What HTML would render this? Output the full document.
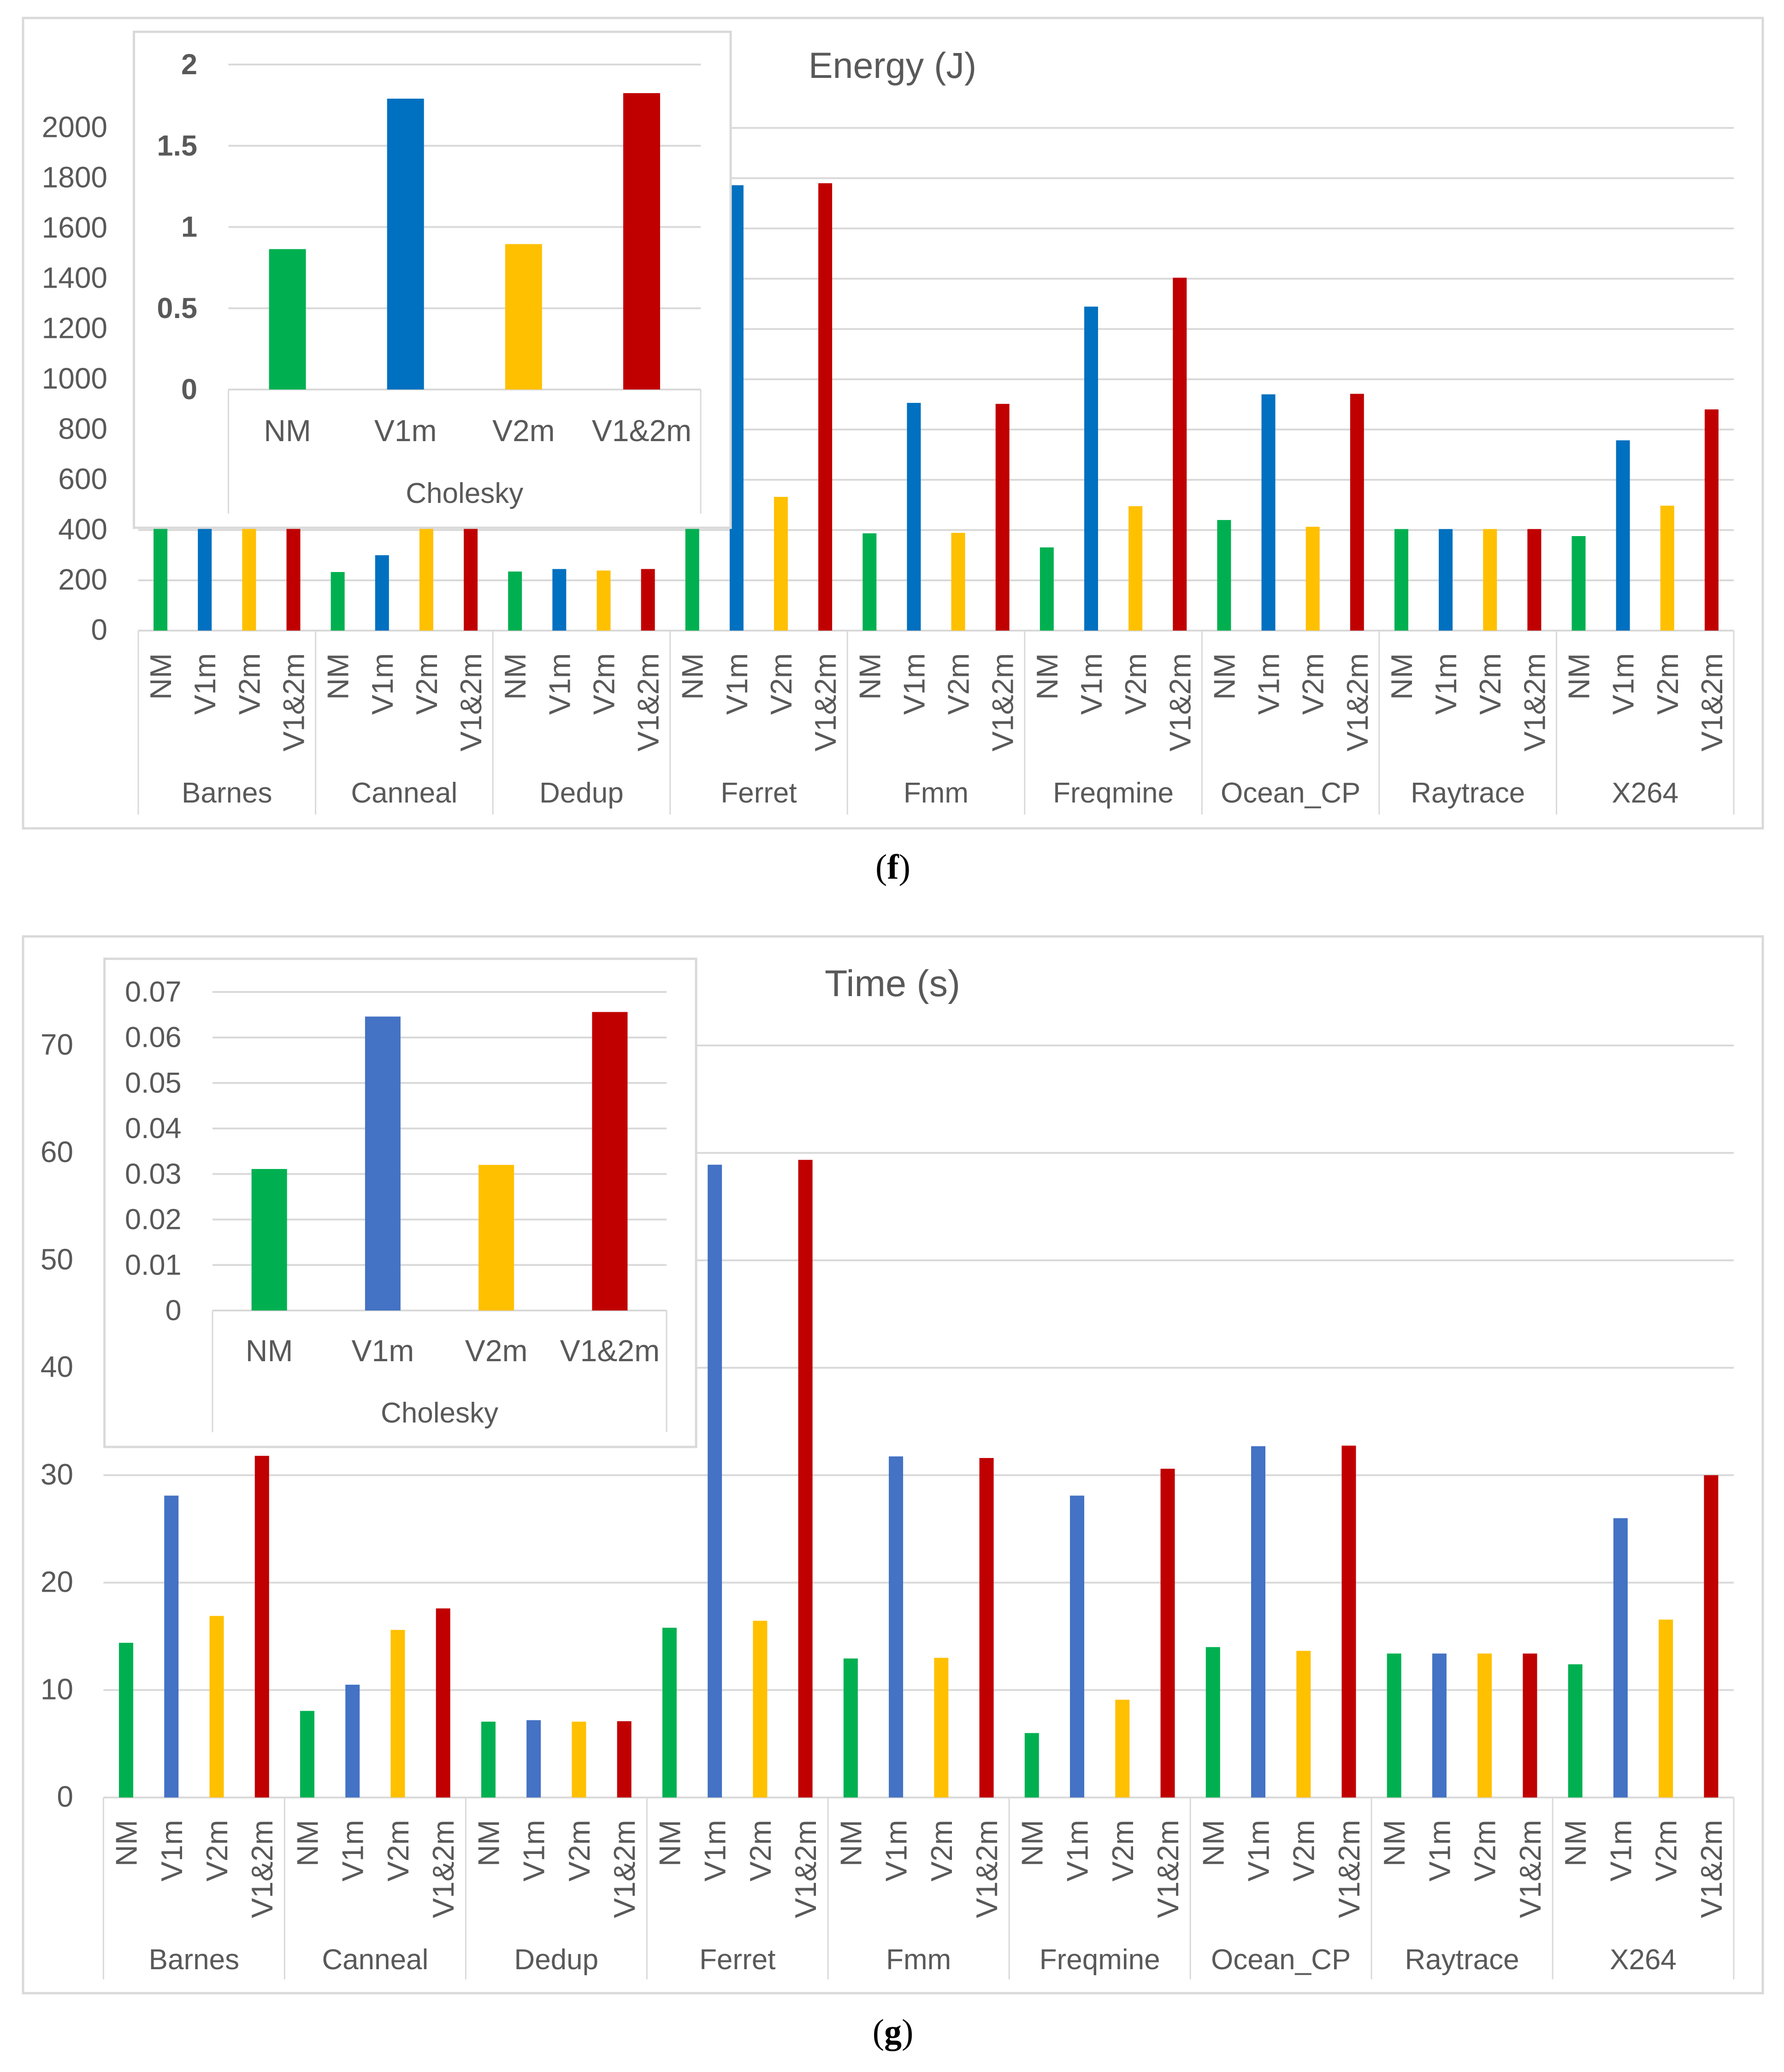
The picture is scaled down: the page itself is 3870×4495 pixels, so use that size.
<!DOCTYPE html>
<html lang="en">
<head>
<meta charset="utf-8">
<title>Energy and Time charts</title>
<style>
html,body{margin:0;padding:0;background:#fff;width:3870px;height:4495px;overflow:hidden}
svg{display:block}
text{font-family:"Liberation Sans",sans-serif;fill:#595959}
.cap{font-family:"Liberation Serif",serif;fill:#000}
</style>
</head>
<body>
<svg id="figure" xmlns="http://www.w3.org/2000/svg" width="3870" height="4495" viewBox="0 0 3870 4495">
  <rect x="0" y="0" width="3870" height="4495" fill="#ffffff"/>
  <g id="chart-f"></g>
  <text class="cap" x="1937" y="1906" font-size="76" text-anchor="middle">(<tspan font-weight="bold">f</tspan>)</text>
  <g id="chart-g"></g>
  <text class="cap" x="1937" y="4433" font-size="76" text-anchor="middle">(<tspan font-weight="bold">g</tspan>)</text>
</svg>
<script>
// ---- shared categories ----
const benchmarks = ['Barnes','Canneal','Dedup','Ferret','Fmm','Freqmine','Ocean_CP','Raytrace','X264'];
const modes = ['NM','V1m','V2m','V1&2m'];
const insetGroup = ['Cholesky'];

// ---- Energy (J) main series, one value per benchmark ----
const energyNM   = [620,233,235,720,387,331,440,404,376];
const energyV1m  = [1240,300,245,1772,906,1289,940,404,757];
const energyV2m  = [750,460,239,532,389,495,413,404,497];
const energyV12m = [1390,540,245,1780,902,1404,942,404,880];
const energyTicks = [0,200,400,600,800,1000,1200,1400,1600,1800,2000];

// ---- Energy inset ----
const energyInsetValues = [0.864,1.79,0.895,1.824];
const energyInsetTicks = [0,0.5,1,1.5,2];

// ---- Time (s) main series ----
const timeNM   = [14.4,8.06,7.06,15.8,12.94,6.0,14.0,13.4,12.4];
const timeV1m  = [28.1,10.5,7.2,58.9,31.75,28.1,32.7,13.4,26.0];
const timeV2m  = [16.9,15.6,7.06,16.45,13.0,9.1,13.65,13.4,16.56];
const timeV12m = [31.8,17.6,7.1,59.35,31.6,30.6,32.75,13.4,30.0];
const timeTicks = [0,10,20,30,40,50,60,70];

// ---- Time inset ----
const timeInsetValues = [0.0311,0.0646,0.032,0.0656];
const timeInsetTicks = [0,0.01,0.02,0.03,0.04,0.05,0.06,0.07];

const NS = 'http://www.w3.org/2000/svg';
const GREY = '#d9d9d9';

function mk(tag, parent, attrs, txt) {
  const el = document.createElementNS(NS, tag);
  for (const k in attrs) el.setAttribute(k, attrs[k]);
  if (txt !== undefined) el.textContent = txt;
  parent.appendChild(el);
  return el;
}

function drawPlot(root, cfg, seriesList, colors, ticks, prefix) {
  const y = v => cfg.y0 - (v / cfg.yMax) * (cfg.y0 - cfg.yTop);
  const groupW = (cfg.x1 - cfg.x0) / benchmarks.length;
  const slotW = groupW / modes.length;
  const x = (g, s) => cfg.x0 + groupW * g + slotW * (s + 0.5);

  ticks.forEach(t => {
    const grid = mk('line', root, {x1: cfg.x0, x2: cfg.x1, y1: y(t), y2: y(t), stroke: GREY, 'stroke-width': 4});
    
    
    const lab = mk('text', root, {x: cfg.labelX, y: y(t) + 20, 'font-size': 64, 'text-anchor': 'end'}, String(t));
    
    
  });

  seriesList.forEach((vals, s) => {
    vals.forEach((v, g) => {
      const bar = mk('rect', root, {x: x(g, s) - cfg.barW / 2, y: y(v), width: cfg.barW, height: cfg.y0 - y(v), fill: colors[s]});
      
      
    });
  });

  for (let g = 0; g <= benchmarks.length; g++) {
    const sx = cfg.x0 + groupW * g;
    const sep = mk('line', root, {x1: sx, x2: sx, y1: cfg.y0, y2: cfg.sepEnd, stroke: GREY, 'stroke-width': 3});
    
    
  }

  benchmarks.forEach((name, g) => {
    modes.forEach((m, s) => {
      const t = mk('text', root, {
        transform: 'translate(' + (x(g, s) + 23) + ',' + cfg.rotTop + ') rotate(-90)',
        'font-size': 65, 'text-anchor': 'end'
      }, m);
      
      
    });
    const gl = mk('text', root, {x: cfg.x0 + groupW * (g + 0.5), y: cfg.groupBase, 'font-size': 62, 'text-anchor': 'middle'}, name);
    
    
  });
}

function drawInset(root, cfg, values, colors, ticks, prefix) {
  const box = mk('rect', root, {x: cfg.left, y: cfg.top, width: cfg.right - cfg.left, height: cfg.bottom - cfg.top, fill: '#ffffff', stroke: GREY, 'stroke-width': 5});
  
  

  const y = v => cfg.y0 - (v / cfg.yMax) * (cfg.y0 - cfg.yTop);
  const slot = (cfg.x1 - cfg.x0) / modes.length;
  const x = i => cfg.x0 + slot * (i + 0.5);

  ticks.forEach(t => {
    const grid = mk('line', root, {x1: cfg.x0, x2: cfg.x1, y1: y(t), y2: y(t), stroke: GREY, 'stroke-width': 4});
    
    
    const lab = mk('text', root, {x: cfg.labelX, y: y(t) + 21, 'font-size': 63, 'text-anchor': 'end', 'font-weight': cfg.tickWeight}, String(t));
    
    
  });

  values.forEach((v, i) => {
    const bar = mk('rect', root, {x: x(i) - cfg.barW / 2, y: y(v), width: cfg.barW, height: cfg.y0 - y(v), fill: colors[i]});
    
    
    const lab = mk('text', root, {x: x(i), y: cfg.labelBase, 'font-size': 66, 'text-anchor': 'middle'}, modes[i]);
    
    
  });

  [cfg.x0, cfg.x1].forEach(sx => {
    const sep = mk('line', root, {x1: sx, x2: sx, y1: cfg.y0, y2: cfg.sepEnd, stroke: GREY, 'stroke-width': 3});
    
    
  });

  const gl = mk('text', root, {x: (cfg.x0 + cfg.x1) / 2, y: cfg.groupBase, 'font-size': 62, 'text-anchor': 'middle'}, insetGroup[0]);
  
  
}

function drawFrame(root, x, y, w, h, prefix) {
  const fr = mk('rect', root, {x: x, y: y, width: w, height: h, fill: '#ffffff', stroke: GREY, 'stroke-width': 5});
  
  
}

function drawTitle(root, txt, yPos, size, prefix) {
  const t = mk('text', root, {x: 1936, y: yPos, 'font-size': size, 'text-anchor': 'middle'}, txt);
  
  
}

// ---- Energy chart ----
const rootF = document.getElementById('chart-f');
const colorsF = ['#00B050','#0070C0','#FFC000','#C00000'];
drawFrame(rootF, 50, 39, 3774, 1758, 'energy');
drawTitle(rootF, 'Energy (J)', 169, 79, 'energy');
drawPlot(rootF, {
  x0: 300, x1: 3761, y0: 1368, yTop: 277.5, yMax: 2000, barW: 30,
  labelX: 233, sepEnd: 1767, rotTop: 1417, groupBase: 1741
}, [energyNM, energyV1m, energyV2m, energyV12m], colorsF, energyTicks, 'energy');
drawInset(rootF, {
  left: 290.5, top: 69, right: 1585, bottom: 1145,
  x0: 495.5, x1: 1520, y0: 845, yTop: 140, yMax: 2, barW: 80,
  labelX: 428, tickWeight: 'bold', labelBase: 957, groupBase: 1091, sepEnd: 1114
}, energyInsetValues, colorsF, energyInsetTicks, 'energy');

// ---- Time chart ----
const rootG = document.getElementById('chart-g');
const colorsG = ['#00B050','#4472C4','#FFC000','#C00000'];
drawFrame(rootG, 50, 2031.5, 3774, 2292.5, 'time');
drawTitle(rootG, 'Time (s)', 2161, 81, 'time');
drawPlot(rootG, {
  x0: 224.4, x1: 3761, y0: 3899.5, yTop: 2268, yMax: 70, barW: 31,
  labelX: 159, sepEnd: 4294, rotTop: 3948, groupBase: 4272
}, [timeNM, timeV1m, timeV2m, timeV12m], colorsG, timeTicks, 'time');
drawInset(rootG, {
  left: 226.6, top: 2080, right: 1510, bottom: 3139,
  x0: 461, x1: 1446, y0: 2843, yTop: 2152, yMax: 0.07, barW: 77,
  labelX: 393.6, tickWeight: 'normal', labelBase: 2953, groupBase: 3086, sepEnd: 3107
}, timeInsetValues, colorsG, timeInsetTicks, 'time');
</script>
</body>
</html>
